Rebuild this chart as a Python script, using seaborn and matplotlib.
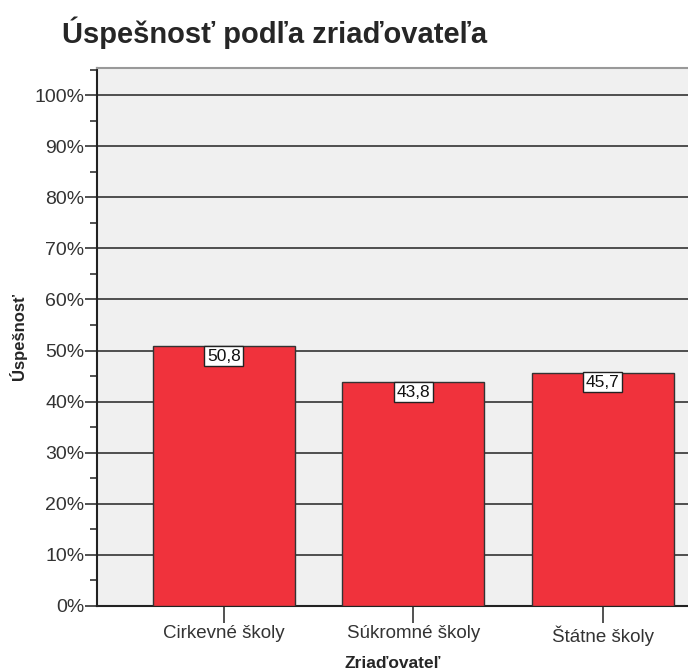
import matplotlib
matplotlib.use("Agg")
import matplotlib.pyplot as plt
import matplotlib.ticker as mticker
import seaborn as sns
import pandas as pd

# data
categories = ["Cirkevné školy", "Súkromné školy", "Štátne školy"]
values = [50.8, 43.8, 45.7]

df = pd.DataFrame({"Zriaďovateľ": categories, "Úspešnosť": values})

sns.set_style("white")
plt.rcParams["font.family"] = ["Liberation Sans Narrow", "Liberation Sans", "DejaVu Sans"]

fig = plt.figure(figsize=(6.88, 6.72), dpi=100)
ax = fig.add_axes([97 / 688, 66 / 672, 1 - 97 / 688, (606 - 68) / 672])
ax.set_facecolor("#f0f0f0")

ax.yaxis.grid(True, color="#333333", linewidth=1.2, zorder=0)
ax.set_axisbelow(True)

sns.barplot(data=df, x="Zriaďovateľ", y="Úspešnosť", order=categories,
            color="#f0323c", saturation=1, width=0.75,
            edgecolor="#333333", linewidth=1.0, ax=ax, zorder=3)

for i, v in enumerate(values):
    ax.text(i, v - 0.45, f"{v:.1f}".replace(".", ","), ha="center", va="top",
            fontsize=12.5, color="#111111", zorder=5,
            bbox=dict(boxstyle="square,pad=0.15", fc="white", ec="#222222", lw=1.0))

ax.set_ylim(0, 105.3)
ax.set_xlim(-0.67, 2.45)
ax.yaxis.set_major_locator(mticker.MultipleLocator(10))
ax.yaxis.set_minor_locator(mticker.MultipleLocator(5))
ax.yaxis.set_major_formatter(mticker.FuncFormatter(lambda y, _: f"{y:.0f}%"))
ax.tick_params(axis="y", which="major", length=9, width=1.2, color="#333333",
               labelsize=14, labelcolor="#333333", pad=0, left=True)
ax.tick_params(axis="y", which="minor", length=5, width=1.2, color="#333333", left=True)
ax.tick_params(axis="x", length=12, width=1.2, color="#333333", bottom=True,
               labelsize=13.5, labelcolor="#333333", pad=2)

for side in ["left", "bottom"]:
    ax.spines[side].set_color("#222222")
    ax.spines[side].set_linewidth(1.5)
ax.spines["top"].set_color("#999999")
ax.spines["top"].set_linewidth(1.5)
ax.spines["right"].set_visible(False)

ax.set_xlabel("Zriaďovateľ", fontsize=12.5, fontweight="bold", labelpad=7)
ax.set_ylabel("Úspešnosť", fontsize=12, fontweight="bold", va="center")
ax.yaxis.set_label_coords((18 - 97) / 591, 0.5)

fig.text(62 / 688, 1 - 33 / 672, "Úspešnosť podľa zriaďovateľa", fontsize=21,
         fontweight="bold", ha="left", va="center",
         family=["Liberation Sans", "DejaVu Sans"])

fig.savefig("out.png", dpi=100)
